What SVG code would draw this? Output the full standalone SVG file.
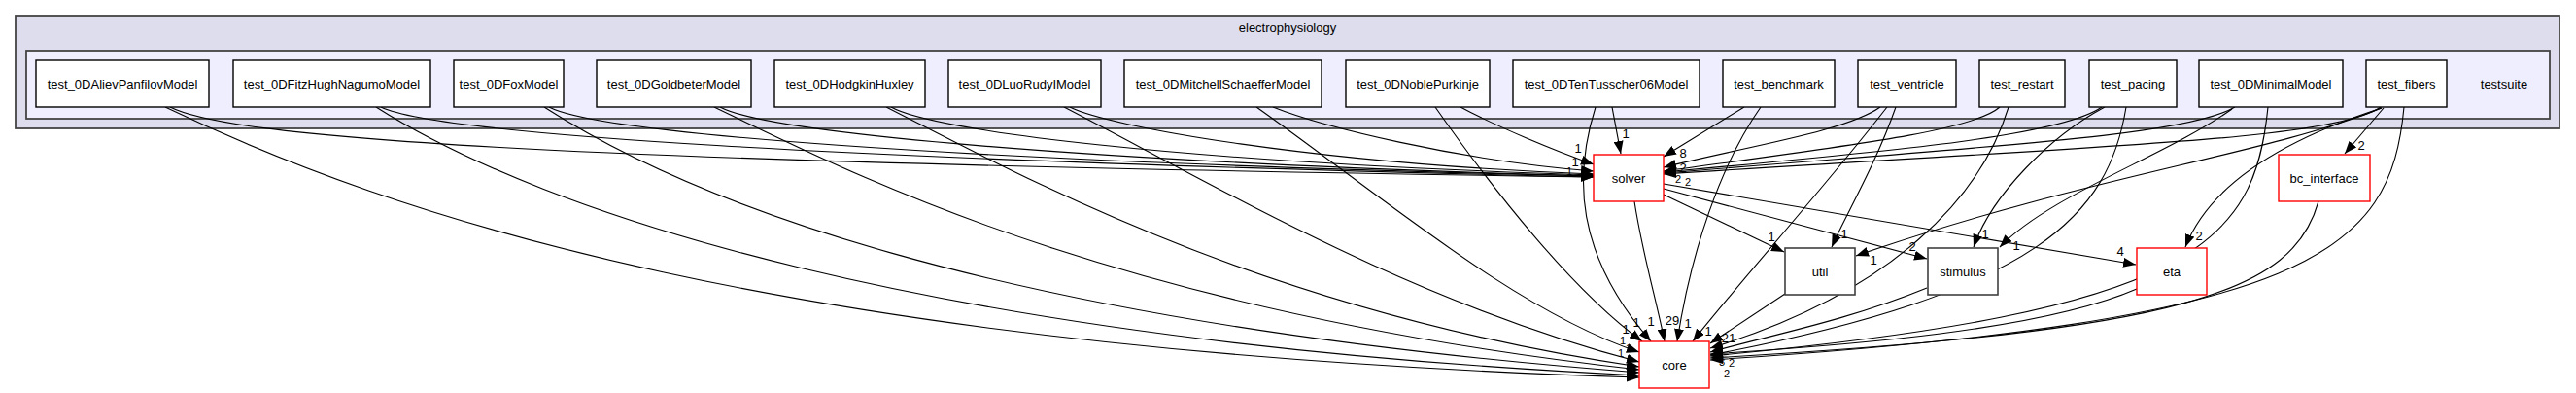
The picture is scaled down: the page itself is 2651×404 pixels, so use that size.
<svg xmlns="http://www.w3.org/2000/svg" width="2651" height="404" viewBox="0 0 2651 404">
<style>
text{font-family:"Liberation Sans",Arial,Helvetica,sans-serif;font-size:13px;fill:#000}
.c{text-anchor:middle}
.s{font-size:11px}
.n{fill:#fff;stroke:#000;stroke-width:1.4}
.r{fill:#fff;stroke:#ff0000;stroke-width:1.4}
.g{fill:#fff;stroke:#404040;stroke-width:1.6}
.e{fill:none;stroke:#000;stroke-width:1.1;marker-end:url(#ah)}
</style>
<defs>
<marker id="ah" viewBox="0 0 13 10" refX="13" refY="5" markerWidth="13" markerHeight="10" markerUnits="userSpaceOnUse" orient="auto"><path d="M0,0 L13,5 L0,10 Z" fill="#000"/></marker>
</defs>
<rect width="2651" height="404" fill="#fff"/>
<g id="cluster_electrophysiology">
<rect x="16" y="16" width="2618" height="116" fill="#ddddee" stroke="#444" stroke-width="1.8"/>
<text class="c" x="1325" y="33">electrophysiology</text>
</g>
<g id="cluster_testsuite">
<rect x="27" y="52" width="2597" height="70" fill="#eeeeff" stroke="#444" stroke-width="1.8"/>
<text class="c" x="2577" y="90.5">testsuite</text>
</g>
<g id="connectors">
<path class="e" d="M175,110 C235,140 520,166 1640,182"/>
<path class="e" d="M392,110 C450,138 850,164 1640,182"/>
<path class="e" d="M565,110 C615,136 950,165 1640,181"/>
<path class="e" d="M741,110 C790,136 1100,166 1640,181"/>
<path class="e" d="M917,110 C960,134 1200,166 1640,180"/>
<path class="e" d="M1101,110 C1140,130 1350,168 1640,179"/>
<path class="e" d="M1310,110 C1360,130 1500,165 1640,176"/>
<path class="e" d="M1503,110 C1540,130 1600,155 1640,169"/>
<path class="e" d="M1659,110 L1668,158"/>
<path class="e" d="M170,110 C400,220 800,360 1687,388"/>
<path class="e" d="M387,110 C560,220 950,350 1687,386"/>
<path class="e" d="M560,110 C700,200 1000,330 1687,383"/>
<path class="e" d="M735,110 C880,180 1150,320 1687,380"/>
<path class="e" d="M912,110 C1050,180 1300,320 1687,377"/>
<path class="e" d="M1095,110 C1250,190 1450,310 1687,372"/>
<path class="e" d="M1293,110 C1420,200 1560,320 1687,362"/>
<path class="e" d="M1477,110 C1540,200 1620,300 1690,351"/>
<path class="e" d="M1642,110 C1620,180 1620,260 1699,351"/>
<path class="e" d="M1795,110 L1712,161"/>
<path class="e" d="M1812,110 C1770,170 1740,260 1726,351"/>
<path class="e" d="M1935,110 C1900,135 1800,150 1712,172"/>
<path class="e" d="M1942,110 C1880,190 1790,290 1742,351"/>
<path class="e" d="M1951,110 C1930,170 1900,220 1885,254"/>
<path class="e" d="M2058,110 C2030,135 1900,150 1712,176"/>
<path class="e" d="M2067,110 C2040,200 1950,300 1760,358"/>
<path class="e" d="M2163,110 C2120,140 1950,155 1712,177"/>
<path class="e" d="M2166,110 C2110,140 2050,200 2031,254"/>
<path class="e" d="M2188,110 C2170,220 2100,300 1760,365"/>
<path class="e" d="M2300,110 C2250,140 2050,150 1712,178"/>
<path class="e" d="M2297,112 C2230,160 2110,200 2058,254"/>
<path class="e" d="M2334,110 C2320,250 2260,320 1760,366"/>
<path class="e" d="M2450,110 C2400,145 2150,150 1712,179"/>
<path class="e" d="M2453,111 L2413,158"/>
<path class="e" d="M2451,111 C2330,150 2270,200 2249,254"/>
<path class="e" d="M2451,111 C2330,160 2150,180 1910,263"/>
<path class="e" d="M2474,110 C2460,260 2380,330 1760,370"/>
<path class="e" d="M2386,207 C2360,300 2250,340 1760,368"/>
<path class="e" d="M2199,297 C2100,340 1900,355 1760,364"/>
<path class="e" d="M1983,296 C1900,330 1820,345 1760,362"/>
<path class="e" d="M1837,302 L1760,353"/>
<path class="e" d="M1682,207 C1690,260 1705,310 1713,351"/>
<path class="e" d="M1712,200 L1836,259"/>
<path class="e" d="M1712,194 L1983,266"/>
<path class="e" d="M1712,189 L2198,272"/>
<text class="c" x="1624" y="157">1</text>
<text class="c" x="1621" y="171">1</text>
<text class="c s" x="1615" y="180">1</text>
<text class="c" x="1673" y="142">1</text>
<text class="c" x="1732" y="162">8</text>
<text class="c" x="1732" y="177">2</text>
<text class="c s" x="1727" y="188">2</text>
<text class="c s" x="1737" y="191">2</text>
<text class="c" x="1673" y="343">1</text>
<text class="c" x="1684" y="336">1</text>
<text class="c" x="1699" y="335">1</text>
<text class="c" x="1721" y="334">29</text>
<text class="c" x="1737" y="337">1</text>
<text class="c" x="1758" y="345">1</text>
<text class="c" x="1779" y="352">21</text>
<text class="c s" x="1670" y="354">1</text>
<text class="c s" x="1676" y="362">1</text>
<text class="c s" x="1668" y="367">1</text>
<text class="c s" x="1676" y="375">1</text>
<text class="c s" x="1772" y="376">3</text>
<text class="c s" x="1782" y="377">2</text>
<text class="c s" x="1777" y="388">2</text>
<text class="c" x="1823" y="248">1</text>
<text class="c" x="1898" y="245">1</text>
<text class="c" x="1928" y="272">1</text>
<text class="c" x="1968" y="258">2</text>
<text class="c" x="2043" y="245">1</text>
<text class="c" x="2075" y="257">1</text>
<text class="c" x="2182" y="263">4</text>
<text class="c" x="2263" y="247">2</text>
<text class="c" x="2430" y="154">2</text>
</g>
<g id="node_test_0DAlievPanfilovModel"><rect class="n" x="37" y="62" width="178" height="48"/><text class="c" x="126" y="90.5">test_0DAlievPanfilovModel</text></g>
<g id="node_test_0DFitzHughNagumoModel"><rect class="n" x="240" y="62" width="203" height="48"/><text class="c" x="341.5" y="90.5">test_0DFitzHughNagumoModel</text></g>
<g id="node_test_0DFoxModel"><rect class="n" x="467" y="62" width="113" height="48"/><text class="c" x="523.5" y="90.5">test_0DFoxModel</text></g>
<g id="node_test_0DGoldbeterModel"><rect class="n" x="614" y="62" width="159" height="48"/><text class="c" x="693.5" y="90.5">test_0DGoldbeterModel</text></g>
<g id="node_test_0DHodgkinHuxley"><rect class="n" x="797" y="62" width="155" height="48"/><text class="c" x="874.5" y="90.5">test_0DHodgkinHuxley</text></g>
<g id="node_test_0DLuoRudyIModel"><rect class="n" x="976" y="62" width="157" height="48"/><text class="c" x="1054.5" y="90.5">test_0DLuoRudyIModel</text></g>
<g id="node_test_0DMitchellSchaefferModel"><rect class="n" x="1157" y="62" width="203" height="48"/><text class="c" x="1258.5" y="90.5">test_0DMitchellSchaefferModel</text></g>
<g id="node_test_0DNoblePurkinje"><rect class="n" x="1385" y="62" width="148" height="48"/><text class="c" x="1459" y="90.5">test_0DNoblePurkinje</text></g>
<g id="node_test_0DTenTusscher06Model"><rect class="n" x="1557" y="62" width="192" height="48"/><text class="c" x="1653" y="90.5">test_0DTenTusscher06Model</text></g>
<g id="node_test_benchmark"><rect class="n" x="1773" y="62" width="115" height="48"/><text class="c" x="1830.5" y="90.5">test_benchmark</text></g>
<g id="node_test_ventricle"><rect class="n" x="1912" y="62" width="101" height="48"/><text class="c" x="1962.5" y="90.5">test_ventricle</text></g>
<g id="node_test_restart"><rect class="n" x="2037" y="62" width="88" height="48"/><text class="c" x="2081" y="90.5">test_restart</text></g>
<g id="node_test_pacing"><rect class="n" x="2150" y="62" width="90" height="48"/><text class="c" x="2195" y="90.5">test_pacing</text></g>
<g id="node_test_0DMinimalModel"><rect class="n" x="2263" y="62" width="148" height="48"/><text class="c" x="2337" y="90.5">test_0DMinimalModel</text></g>
<g id="node_test_fibers"><rect class="n" x="2435" y="62" width="83" height="48"/><text class="c" x="2476.5" y="90.5">test_fibers</text></g>
<g id="node_solver"><rect class="r" x="1640" y="159" width="72" height="48"/><text class="c" x="1676" y="187.5">solver</text></g>
<g id="node_bc_interface"><rect class="r" x="2345" y="159" width="94" height="48"/><text class="c" x="2392" y="187.5">bc_interface</text></g>
<g id="node_util"><rect class="g" x="1837" y="255" width="72" height="48"/><text class="c" x="1873" y="283.5">util</text></g>
<g id="node_stimulus"><rect class="g" x="1984" y="255" width="72" height="48"/><text class="c" x="2020" y="283.5">stimulus</text></g>
<g id="node_eta"><rect class="r" x="2199" y="255" width="72" height="48"/><text class="c" x="2235" y="283.5">eta</text></g>
<g id="node_core"><rect class="r" x="1687" y="351" width="72" height="48"/><text class="c" x="1723" y="379.5">core</text></g>
</svg>
